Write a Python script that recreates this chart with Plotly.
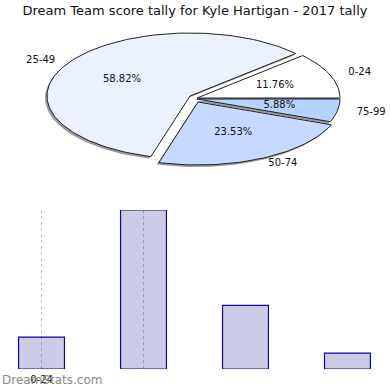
import numpy as np
import plotly.graph_objects as go

# ---------------- data ----------------
title_text = "Dream Team score tally for Kyle Hartigan - 2017 tally"
categories = ["0-24", "25-49", "50-74", "75-99"]
counts = [2, 10, 4, 1]
watermark = "DreamStats.com"

# ---------------- styles ----------------
slice_colors = ["#FFFFFF", "#EBF1FF", "#C6D9FF", "#B5D3FF"]
explode_px = [(2, -1), (-5, -3), (3, 3), (2, 0)]
W = H = 390
cx, cy, rx, ry = 195.0, 99.0, 143.0, 63.0
FONT = "DejaVu Sans"

fig = go.Figure()

total = float(sum(counts))
fracs = [c / total for c in counts]


def slice_path(a0, a1, dx, dy, sx=0.0, sy=0.0):
    n = max(8, int(abs(a1 - a0) / (2 * np.pi) * 240))
    t = np.linspace(a0, a1, n)
    xs = [cx + dx + sx] + list(cx + dx + sx + rx * np.cos(t)) + [cx + dx + sx]
    ys = [cy + dy + sy] + list(cy + dy + sy - ry * np.sin(t)) + [cy + dy + sy]
    return xs, ys


a = 0.0
angles = []
for f in fracs:
    angles.append((a, a + f * 2 * np.pi))
    a += f * 2 * np.pi

# shadows first
for (a0, a1), (dx, dy) in zip(angles, explode_px):
    xs, ys = slice_path(a0, a1, dx, dy, -2, 2)
    fig.add_trace(go.Scatter(x=xs, y=ys, fill="toself", mode="lines",
                             fillcolor="rgba(0,0,0,0.4)", line=dict(width=0, color="rgba(0,0,0,0)"),
                             xaxis="x2", yaxis="y2", hoverinfo="skip", showlegend=False))

for (a0, a1), (dx, dy), col in zip(angles, explode_px, slice_colors):
    xs, ys = slice_path(a0, a1, dx, dy)
    fig.add_trace(go.Scatter(x=xs, y=ys, fill="toself", mode="lines",
                             fillcolor=col, line=dict(width=1, color="#222222"),
                             xaxis="x2", yaxis="y2", hoverinfo="skip", showlegend=False))

# labels
px_, py_, pt_ = [], [], []
lx_, ly_, lt_, lp_ = [], [], [], []
for (a0, a1), cat, f in zip(angles, categories, fracs):
    m = (a0 + a1) / 2
    px_.append(cx + rx * 0.6 * np.cos(m))
    py_.append(cy - ry * 0.6 * np.sin(m))
    pt_.append(f"{f * 100:.2f}%")
    lx_.append(cx + rx * 1.15 * np.cos(m))
    ly_.append(cy - ry * 1.15 * np.sin(m))
    lt_.append(cat)
    lp_.append("middle right" if np.cos(m) >= 0 else "middle left")

fig.add_trace(go.Scatter(x=px_, y=py_, text=pt_, mode="text", textposition="middle center",
                         textfont=dict(family=FONT, size=10, color="#111111"),
                         xaxis="x2", yaxis="y2", hoverinfo="skip", showlegend=False))
fig.add_trace(go.Scatter(x=lx_, y=ly_, text=lt_, mode="text", textposition=lp_,
                         textfont=dict(family=FONT, size=10, color="#111111"),
                         xaxis="x2", yaxis="y2", hoverinfo="skip", showlegend=False))

# bar chart
fig.add_trace(go.Bar(x=categories, y=counts, width=0.45,
                     marker=dict(color="rgba(0,0,128,0.2)", line=dict(color="#0A0A9E", width=1.2)),
                     xaxis="x", yaxis="y", hoverinfo="skip", showlegend=False))

fig.update_layout(
    width=W, height=H,
    margin=dict(l=0, r=0, t=0, b=0),
    paper_bgcolor="white", plot_bgcolor="rgba(0,0,0,0)",
    font=dict(family=FONT, size=10, color="#111111"),
    title=dict(text=title_text, x=0.5, xanchor="center", y=1 - 10 / H, yanchor="middle",
               font=dict(family=FONT, size=13, color="#111111")),
    xaxis=dict(domain=[0, 1], type="category", categoryorder="array", categoryarray=categories,
               range=[-0.407, 3.417], tickvals=categories[:2], ticktext=[categories[0], ""],
               showgrid=True, gridcolor="#C4C4C4", griddash="dot", gridwidth=1.2,
               showline=False, zeroline=False, ticks="", anchor="y", ticklabelstandoff=3,
               tickfont=dict(family=FONT, size=10, color="#111111"), fixedrange=True),
    yaxis=dict(domain=[21 / H, 180 / H], range=[0, 10], visible=False, anchor="x", fixedrange=True),
    xaxis2=dict(domain=[0, 1], range=[0, W], visible=False, anchor="y2", fixedrange=True),
    yaxis2=dict(domain=[0, 1], range=[H, 0], visible=False, anchor="x2", fixedrange=True),
    annotations=[dict(text=watermark, x=0, xanchor="left", y=10 / H, yanchor="middle",
                      xref="paper", yref="paper", showarrow=False,
                      font=dict(family=FONT, size=12, color="#8A8A8A"))],
)

fig.write_html("out.html", config={"displayModeBar": False},
               post_script="document.body.style.margin='0';")
